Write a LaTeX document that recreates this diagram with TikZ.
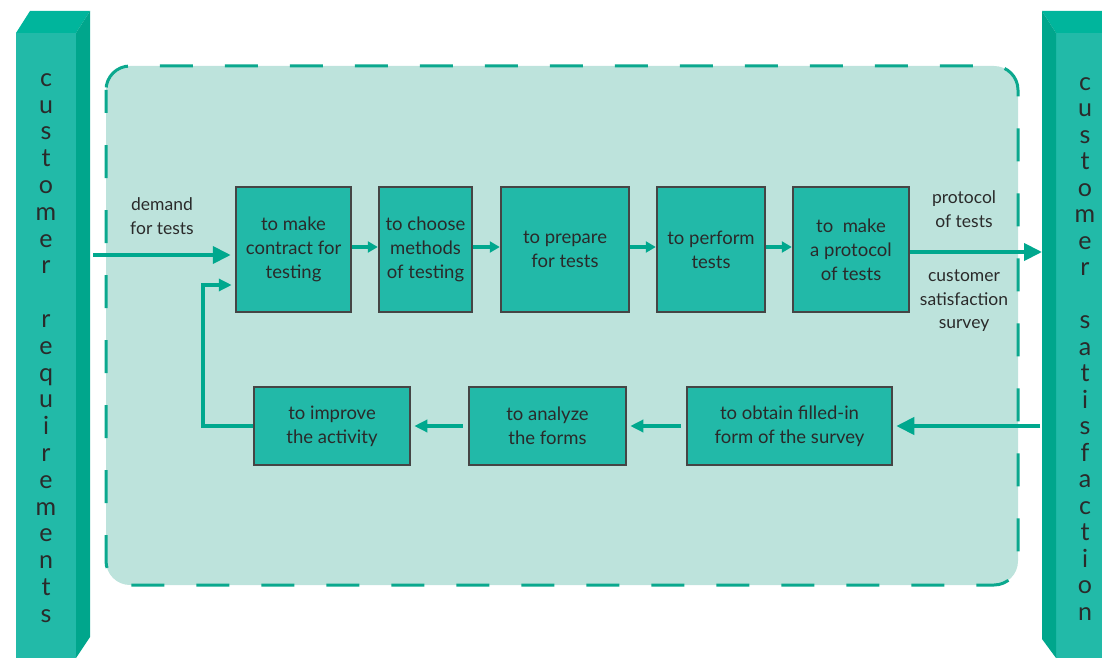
\documentclass[tikz,border=0pt]{standalone}
\usepackage{fontspec}
\setmainfont{Lato}
\usetikzlibrary{arrows.meta}
\definecolor{barfront}{HTML}{22BAA8}
\definecolor{barside}{HTML}{00A68C}
\definecolor{bartop}{HTML}{00B59C}
\definecolor{bgfill}{HTML}{BDE3DC}
\definecolor{dashcol}{HTML}{0BA88E}
\definecolor{arrcol}{HTML}{00A88E}
\definecolor{boxfill}{HTML}{22B9A8}
\definecolor{boxline}{HTML}{454545}
\definecolor{txt}{HTML}{2A2A2A}
\begin{document}
\begin{tikzpicture}[x=1pt,y=-1pt,
  box/.style={draw=boxline, line width=2.5pt, fill=boxfill, align=center,
    font=\fontsize{18.5}{24}\selectfont, text=txt, inner sep=0pt},
  lbl/.style={align=center, font=\fontsize{17.5}{23.5}\selectfont, text=txt, inner sep=0pt},
  barlbl/.style={align=center, font=\fontsize{25}{26.8}\selectfont, text=txt, inner sep=0pt},
  bigarrow/.style={draw=arrcol, line width=4pt, -{Triangle[length=18pt,width=17pt]}},
  smallarrow/.style={draw=arrcol, line width=3.7pt, -{Triangle[length=10pt,width=11pt]}},
  midarrow/.style={draw=arrcol, line width=3.7pt, -{Triangle[length=13pt,width=12pt]}}]
\useasboundingbox (0,0) rectangle (1102,658);
% background dashed region
\fill[bgfill, rounded corners=24pt] (106,66) rectangle (1018,585);
\draw[dashcol, line width=3pt, rounded corners=24pt, dash pattern=on 33pt off 32pt, dash phase=10pt]
  (106,66) rectangle (1018,585);
% left bar
\fill[barfront] (16,33) rectangle (76,658);
\fill[bartop] (16,33) -- (30,11) -- (90,11) -- (76,33) -- cycle;
\fill[barside] (76,33) -- (90,11) -- (90,637) -- (76,658) -- cycle;
% right bar
\fill[barfront] (1056,33) rectangle (1102,658);
\fill[bartop] (1042,11) -- (1102,11) -- (1102,33) -- (1056,33) -- cycle;
\fill[barside] (1042,11) -- (1056,33) -- (1056,658) -- (1042,639) -- cycle;
% bar texts
\node[barlbl] (lbar) at (46,348) {c\\u\\s\\t\\o\\m\\e\\r\\\strut\\r\\e\\q\\u\\i\\r\\e\\m\\e\\n\\t\\s};
\node[barlbl, font=\fontsize{25}{26.5}\selectfont] (rbar) at (1085,349) {c\\u\\s\\t\\o\\m\\e\\r\\\strut\\s\\a\\t\\i\\s\\f\\a\\c\\t\\i\\o\\n};
% top row boxes
\node[box, minimum width=115pt, minimum height=125pt] (b1) at (293.5,249.5) {to make\\contract for\\testing};
\node[box, minimum width=93pt, minimum height=125pt] (b2) at (425.5,249.5) {to choose\\methods\\of testing};
\node[box, minimum width=128pt, minimum height=125pt] (b3) at (565,249.5) {to prepare\\for tests};
\node[box, minimum width=108pt, minimum height=125pt] (b4) at (711,249.5) {to perform\\tests};
\node[box, minimum width=116pt, minimum height=125pt] (b5) at (851,249.5) {to\ \ make\\a protocol\\of tests};
% bottom row boxes
\node[box, minimum width=156pt, minimum height=78pt] (b6) at (332,426) {to improve\\the activity};
\node[box, minimum width=157pt, minimum height=78pt] (b7) at (547.5,426) {to analyze\\the forms};
\node[box, minimum width=205pt, minimum height=78pt] (b8) at (789.5,426) {to obtain filled-in\\form of the survey};
% labels
\node[lbl] (ldemand) at (162,216) {demand\\for tests};
\node[lbl] (lprot) at (964,209) {protocol\\of tests};
\node[lbl] (lsurv) at (964,301) {customer\\satisfaction\\survey};
% coordinates
\coordinate (din) at (93,255);
\coordinate (fbc) at (203,285);
\coordinate (row) at (0,247);
\coordinate (outtip) at (1042,252);
\coordinate (intail) at (1040,426);
% arrows
\draw[bigarrow, shorten >=4pt] (din) -- (b1.west |- din);
\draw[smallarrow] (b1.east |- row) -- (b2.west |- row);
\draw[smallarrow] (b2.east |- row) -- (b3.west |- row);
\draw[smallarrow] (b3.east |- row) -- (b4.west |- row);
\draw[smallarrow] (b4.east |- row) -- (b5.west |- row);
\draw[bigarrow] (b5.east |- outtip) -- (outtip);
\draw[bigarrow, shorten >=3pt] (intail) -- (b8.east);
\draw[midarrow, shorten >=3pt, shorten <=5pt] (b8.west) -- (b7.east);
\draw[midarrow, shorten >=3pt, shorten <=5pt] (b7.west) -- (b6.east);
\draw[midarrow, line width=3.5pt, shorten >=3pt] (b6.west) -| (fbc) -- (b1.west |- fbc);
\end{tikzpicture}
\end{document}
